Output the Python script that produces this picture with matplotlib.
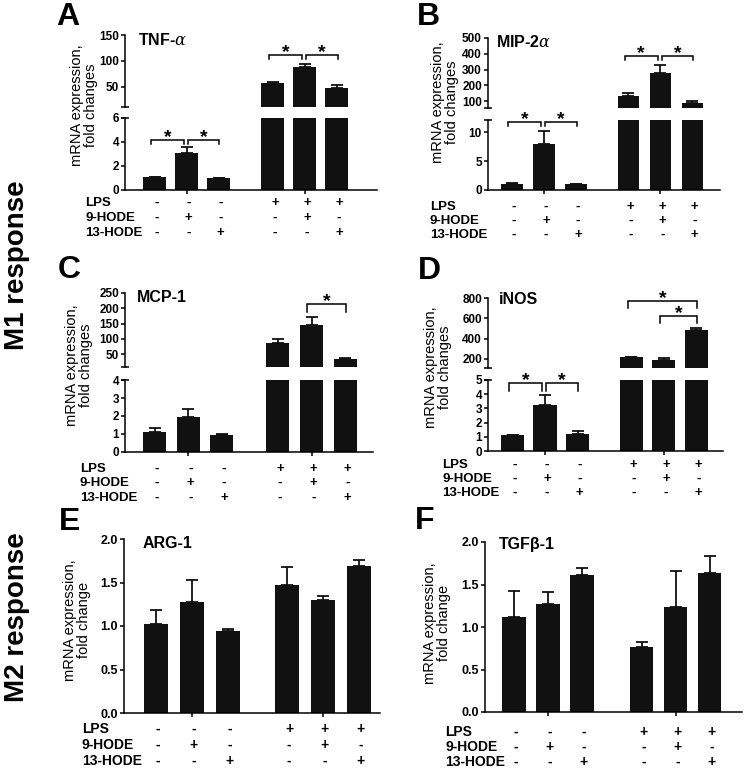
import matplotlib
matplotlib.use('Agg')
import matplotlib.pyplot as plt
from matplotlib.lines import Line2D
import numpy as np

plt.rcParams['font.family'] = ['Liberation Sans', 'DejaVu Sans']
plt.rcParams['mathtext.fontset'] = 'dejavuserif'

# ---------------- data ----------------
row_names = ['LPS', '9-HODE', '13-HODE']
lps = ['-', '-', '-', '+', '+', '+']
hode9 = ['-', '+', '-', '-', '+', '-']
hode13 = ['-', '-', '+', '-', '-', '+']

tnf_mean = [1.05, 3.1, 1.0, 58, 88, 48]
tnf_err = [0.05, 0.5, 0.03, 1.5, 6, 5]

mip_mean = [1.0, 8.0, 1.0, 130, 280, 90]
mip_err = [0.2, 2.1, 0.1, 20, 50, 12]

mcp_mean = [1.1, 1.95, 0.95, 86, 145, 33]
mcp_err = [0.23, 0.45, 0.05, 12, 25, 4]

inos_mean = [1.1, 3.25, 1.2, 215, 185, 485]
inos_err = [0.05, 0.7, 0.22, 2, 28, 15]

arg_mean = [1.02, 1.28, 0.94, 1.47, 1.30, 1.69]
arg_err = [0.16, 0.25, 0.02, 0.21, 0.05, 0.07]

tgf_mean = [1.12, 1.27, 1.61, 0.76, 1.24, 1.63]
tgf_err = [0.30, 0.14, 0.09, 0.06, 0.42, 0.21]

titles = ['TNF-$\\alpha$', 'MIP-2$\\alpha$', 'MCP-1', 'iNOS', 'ARG-1', 'TGF\u03b2-1']
letters = ['A', 'B', 'C', 'D', 'E', 'F']

# ---------------- layout (pixels) ----------------
W, H = 750, 784
fig = plt.figure(figsize=(W / 100, H / 100), dpi=100)
PT = 0.72  # points per pixel


def rect(x0, x1, ytop, ybot):
    return [x0 / W, 1 - ybot / H, (x1 - x0) / W, (ybot - ytop) / H]


panels = [
    dict(mean=tnf_mean, err=tnf_err, x0=125, x1=377, b1=154.5, sp=32, g=3.7, w=0.72,
         upper=(35, 107, (11.5, 150), [50, 100, 150]),
         lower=(118, 190, (0, 6), [0, 2, 4, 6]),
         letter=(68, 17), title=(138, 40), ylab=(84, 105), ylabtxt='mRNA expression,\nfold changes',
         rows_x=85, rows_y=(203, 218, 233),
         br_lower=[(0, 1, 4.17, 3.83), (1, 2, 4.17, 3.83)],
         br_upper=[(3, 4, 111.5, 104), (4, 5, 111.5, 104)]),
    dict(mean=mip_mean, err=mip_err, x0=488, x1=720, b1=512, sp=32, g=3.64, w=0.66,
         upper=(38, 108, (55.6, 500), [100, 200, 300, 400, 500]),
         lower=(120, 190, (0, 12.07), [0, 5, 10]),
         letter=(428, 17), title=(496, 42), ylab=(445, 102), ylabtxt='mRNA expression,\nfold changes',
         rows_x=430, rows_y=(207, 221, 235),
         br_lower=[(0, 1, 11.7, 11.0), (1, 2, 11.7, 11.0)],
         br_upper=[(3, 4, 386, 360), (4, 5, 386, 360)]),
    dict(mean=mcp_mean, err=mcp_err, x0=125, x1=373, b1=154.5, sp=33.7, g=3.66, w=0.68,
         upper=(293, 367, (7.4, 250), [50, 100, 150, 200, 250]),
         lower=(380, 452, (0, 4), [0, 1, 2, 3, 4]),
         letter=(69, 270), title=(137, 297), ylab=(79, 365), ylabtxt='mRNA expression,\nfold changes',
         rows_x=80, rows_y=(469, 483, 498),
         br_lower=[],
         br_upper=[(4, 5, 214, 188)]),
    dict(mean=inos_mean, err=inos_err, x0=488, x1=723, b1=512.5, sp=32.5, g=3.66, w=0.71,
         upper=(298, 368, (111, 800), [200, 400, 600, 800]),
         lower=(380, 451, (0, 5), [0, 1, 2, 3, 4, 5]),
         letter=(429, 271), title=(499, 300), ylab=(438, 367), ylabtxt='mRNA expression,\nfold changes',
         rows_x=442, rows_y=(465, 479, 493),
         br_lower=[(0, 1, 4.79, 4.23), (1, 2, 4.79, 4.23)],
         br_upper=[(3, 5, 770, 702), (4, 5, 623, 554)]),
    dict(mean=arg_mean, err=arg_err, x0=124, x1=380, b1=156, sp=35.8, g=3.66, w=0.67,
         single=(539, 713, (0, 2.0), [0.0, 0.5, 1.0, 1.5, 2.0]),
         letter=(70, 522), title=(143, 543), ylab=(77, 620), ylabtxt='mRNA expression,\nfold change',
         rows_x=82, rows_y=(729, 745, 761), br_lower=[], br_upper=[]),
    dict(mean=tgf_mean, err=tgf_err, x0=485, x1=742, b1=514, sp=34, g=3.76, w=0.68,
         single=(542, 712, (0, 2.0), [0.0, 0.5, 1.0, 1.5, 2.0]),
         letter=(425, 521), title=(499, 545), ylab=(437, 623), ylabtxt='mRNA expression,\nfold change',
         rows_x=445, rows_y=(732, 747, 762), br_lower=[], br_upper=[]),
]

LW = 1.1
BAR = '#111111'


def style_axis(ax, fs):
    ax.tick_params(axis='y', direction='out', length=4 * PT, width=LW, labelsize=fs, pad=1.5)
    for s in ['top', 'right']:
        ax.spines[s].set_visible(False)
    for s in ['left', 'bottom']:
        ax.spines[s].set_linewidth(LW)


def draw_bars(ax, x, mean, err, w):
    ax.bar(x, mean, width=w, color=BAR, edgecolor='none', zorder=2)
    ax.errorbar(x, mean, yerr=[np.zeros(len(err)), err], fmt='none', ecolor=BAR,
                elinewidth=1.3, capsize=4.5, capthick=1.3, zorder=3)


def break_mark(ax, yfrac, axw_px):
    d = 4 / axw_px
    ax.add_line(Line2D([-d, d], [yfrac, yfrac], transform=ax.transAxes, color='k',
                       lw=LW, clip_on=False, solid_capstyle='butt'))


def brackets(ax, x, blist):
    for (i, j, ytop, yleg) in blist:
        shared_left = any(b[1] == i for b in blist)
        shared_right = any(b[0] == j for b in blist)
        xl = x[i] + (0.04 if shared_left else -0.12)
        xr = x[j] + (-0.08 if shared_right else 0.02)
        ax.plot([xl, xl, xr, xr], [yleg, ytop, ytop, yleg], color='k', lw=LW,
                clip_on=False, solid_joinstyle='miter')
        ax.annotate('*', xy=((xl + xr) / 2, ytop), xytext=(0, -1.5), textcoords='offset points',
                    ha='center', va='baseline', fontsize=14, fontweight='bold', annotation_clip=False)


for k, p in enumerate(panels):
    x = np.array([0, 1, 2, p['g'], p['g'] + 1, p['g'] + 2])
    xlim = ((p['x0'] - p['b1']) / p['sp'], (p['x1'] - p['b1']) / p['sp'])
    axw = p['x1'] - p['x0']
    fs = 8.5 if k < 4 else 9
    rowfs = 9.5 if k < 4 else 10

    if 'single' in p:
        yt, yb, ylim, ticks = p['single']
        axl = fig.add_axes(rect(p['x0'], p['x1'], yt, yb))
        draw_bars(axl, x, p['mean'], p['err'], p['w'])
        axl.set_xlim(*xlim)
        axl.set_ylim(*ylim)
        axl.set_yticks(ticks)
        axl.set_yticklabels(['%.1f' % t for t in ticks])
        style_axis(axl, fs)
        for lab in axl.get_yticklabels():
            lab.set_fontweight('bold')
    else:
        yt, yb, ylim, ticks = p['upper']
        axu = fig.add_axes(rect(p['x0'], p['x1'], yt, yb))
        draw_bars(axu, x, p['mean'], p['err'], p['w'])
        axu.set_xlim(*xlim)
        axu.set_ylim(*ylim)
        axu.set_yticks(ticks)
        style_axis(axu, fs)
        axu.spines['bottom'].set_visible(False)
        axu.set_xticks([])
        for lab in axu.get_yticklabels():
            lab.set_fontweight('bold')
        break_mark(axu, 0.0, axw)
        brackets(axu, x, p['br_upper'])

        yt, yb, ylim, ticks = p['lower']
        axl = fig.add_axes(rect(p['x0'], p['x1'], yt, yb))
        draw_bars(axl, x, p['mean'], p['err'], p['w'])
        axl.set_xlim(*xlim)
        axl.set_ylim(*ylim)
        axl.set_yticks(ticks)
        style_axis(axl, fs)
        for lab in axl.get_yticklabels():
            lab.set_fontweight('bold')
        break_mark(axl, 1.0, axw)
        brackets(axl, x, p['br_lower'])

    axl.set_xticks([x[1], x[4]])
    axl.set_xticklabels([])
    axl.tick_params(axis='x', direction='out', length=4 * PT, width=LW)

    # condition rows
    for name, vals, yy in zip(row_names, [lps, hode9, hode13], p['rows_y']):
        fig.text(p['rows_x'] / W, 1 - yy / H, name, ha='left', va='center',
                 fontsize=rowfs, fontweight='bold')
        for xi, v in zip(x, vals):
            px = p['b1'] + xi * p['sp'] + 2
            fig.text(px / W, 1 - yy / H, v, ha='center', va='center',
                     fontsize=rowfs, fontweight='bold')

    # letter, title, ylabel
    fig.text(p['letter'][0] / W, 1 - p['letter'][1] / H, letters[k], ha='center', va='center',
             fontsize=23, fontweight='bold')
    fig.text(p['title'][0] / W, 1 - p['title'][1] / H, titles[k], ha='left', va='center',
             fontsize=11.5, fontweight='bold')
    fig.text(p['ylab'][0] / W, 1 - p['ylab'][1] / H, p['ylabtxt'], rotation=90,
             ha='center', va='center', multialignment='center', fontsize=10.5, linespacing=1.0)

fig.text(17 / W, 1 - 265 / H, 'M1 response', rotation=90, ha='center', va='center',
         fontsize=20, fontweight='bold')
fig.text(17 / W, 1 - 617 / H, 'M2 response', rotation=90, ha='center', va='center',
         fontsize=20, fontweight='bold')

fig.savefig('out.png', dpi=100)
